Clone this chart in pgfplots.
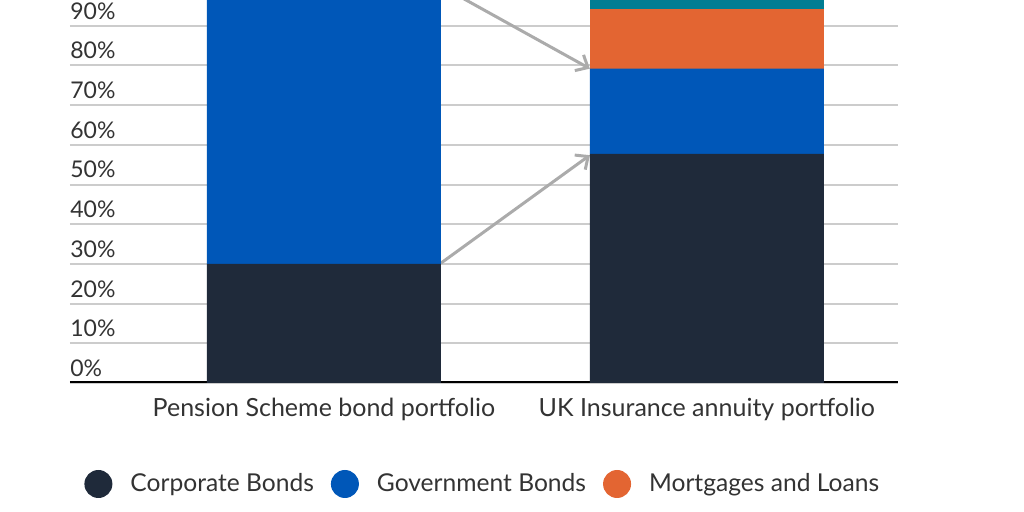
\documentclass[border=0pt]{standalone}
\usepackage{pgfplots}
\pgfplotsset{compat=1.18}
\usepackage{fontspec}
\setmainfont{Lato}
\usetikzlibrary{arrows.meta}

\definecolor{corp}{HTML}{1F2A3A}
\definecolor{gov}{HTML}{0057B8}
\definecolor{mort}{HTML}{E36532}
\definecolor{other}{HTML}{007D93}
\definecolor{txt}{HTML}{333333}
\definecolor{gridc}{HTML}{CCCCCC}
\definecolor{arrowc}{HTML}{ABABAB}

\begin{document}
\begin{tikzpicture}
\begin{axis}[
    at={(0,0)}, anchor=south west,
    scale only axis,
    width=414pt, height=191.5pt,
    ybar stacked,
    bar width=0.611,
    xmin=-0.663, xmax=1.499,
    ymin=0, ymax=96.5,
    xtick={0,1},
    xticklabels={Pension Scheme bond portfolio, UK Insurance annuity portfolio},
    ytick={0,10,...,90},
    yticklabel={\pgfmathprintnumber{\tick}\%},
    /pgf/number format/assume math mode=true,
    ymajorgrids=true,
    grid style={gridc, line width=1pt},
    axis line style={draw=none},
    major tick length=0pt,
    tick label style={text=txt},
    yticklabel style={font=\fontsize{11.5}{13}\selectfont, anchor=south west, inner sep=0pt, yshift=3pt},
    xticklabel style={font=\fontsize{12.5}{14}\selectfont, anchor=center, yshift=-13pt},
    legend style={draw=none, fill=none, at={(axis description cs:0,0)}, anchor=west,
        xshift=4pt, yshift=-50.5pt, legend columns=-1,
        font=\fontsize{12.3}{14}\selectfont, text=txt,
        /tikz/every even column/.append style={column sep=6.5pt}},
    legend image code/.code={\fill[#1] (4pt,0) circle (7pt); \path[draw=none, fill=none] (-3pt,0) rectangle (18pt,0.1pt);},
]
\addplot[fill=corp, draw=none] coordinates {(0,30) (1,57.7)};
\addplot[fill=gov, draw=none] coordinates {(0,70) (1,21.5)};
\addplot[fill=mort, draw=none] coordinates {(0,0) (1,15.0)};
\addplot[fill=other, draw=none] coordinates {(0,0) (1,5.8)};
\legend{Corporate Bonds, Government Bonds, Mortgages and Loans}
\draw[arrowc, line width=1.5pt, -{Straight Barb[length=5pt, width=9pt]}] (axis cs:0.3055,30.2) -- (axis cs:0.6945,57.4);
\draw[arrowc, line width=1.5pt, -{Straight Barb[length=5pt, width=9pt]}] (axis cs:0.3055,100) -- (axis cs:0.6945,79.2);
\draw[black, line width=2pt] (rel axis cs:0,0) -- (rel axis cs:1,0);
\end{axis}
\pgfresetboundingbox
\path (-35pt,-64.5pt) rectangle (477pt,191.5pt);
\end{tikzpicture}
\end{document}
